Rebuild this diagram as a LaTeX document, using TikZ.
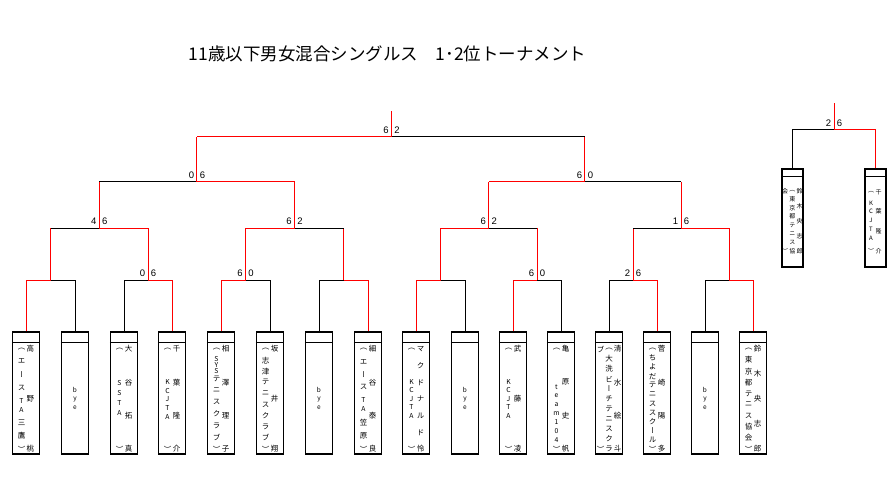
\documentclass[tikz,border=0pt]{standalone}
\usepackage{fontspec}
\newfontfamily\jp{Noto Sans CJK JP}
\newfontfamily\jpv[RawFeature=+vert]{Noto Sans CJK JP}
\newfontfamily\arialf{Liberation Sans}
\usetikzlibrary{calc}
\tikzset{
  ln/.style={line width=1pt, black},
  rd/.style={line width=1pt, red},
  pbox/.style={draw, line width=1.1pt, minimum width=27pt, minimum height=122pt, inner sep=0pt},
  ebox/.style={draw, line width=1.1pt, minimum width=21pt, minimum height=98pt, inner sep=0pt},
  chs/.style={inner sep=0pt, font=\jpv\fontsize{7.5}{7.5}\selectfont},
  lat/.style={inner sep=0pt, font=\jp\fontsize{6.8}{7}\selectfont},
  chx/.style={inner sep=0pt, font=\jpv\fontsize{6}{6}\selectfont},
  latx/.style={inner sep=0pt, font=\jp\fontsize{6}{6}\selectfont},
  byet/.style={inner sep=0pt, font=\jp\fontsize{6.5}{6.5}\selectfont},
  score/.style={inner sep=0pt, font=\arialf\fontsize{9.5}{9.5}\selectfont},
  ttl/.style={inner sep=0pt, font=\jp\fontsize{17.5}{17.5}\selectfont},
}
% distribute a list of characters evenly from y1 to y2 at x
\newcommand{\dcol}[6][chs]{%
  \foreach \dch [count=\dii] in {#6} {\xdef\dcn{\dii}}%
  \foreach \dch [count=\dii] in {#6} {%
    \node[#1] (#2-\dii) at (#3, {#4+(#5-#4)*(\dii-1)/max(\dcn-1,1)}) {\dch};}%
}
\newcommand{\scr}[5]{%
  \node[score] (#1a) at ({#2-5.5}, {#3-6.5}) {#4};
  \node[score] (#1b) at ({#2+5.5}, {#3-6.5}) {#5};}
\newcommand{\byebox}[2]{%
  \dcol[byet]{#1}{#2}{390}{408}{b,y,e}}
\begin{document}
\begin{tikzpicture}[x=1pt, y=-1pt]
\useasboundingbox (0,0) rectangle (892,484);

% title
\node[ttl] (title) at (387.5,54) {11歳以下男女混合シングルス　1･2位トーナメント};

% player boxes
\foreach \k/\cx in {0/26,1/75,2/124,3/172,4/221,5/270,6/319,7/368,8/416,9/465,10/513,11/561,12/609,13/657,14/705,15/753} {
  \node[pbox] (p\k) at (\cx,393) {};
  \draw[line width=1.1pt] ([yshift=-11pt]p\k.north west) -- ([yshift=-11pt]p\k.north east);
}

% junctions
\coordinate (m1) at (50.5,280);
\coordinate (m2) at (148,280);
\coordinate (m3) at (245.5,280);
\coordinate (m4) at (343.5,280);
\coordinate (m5) at (440.5,280);
\coordinate (m6) at (537,280);
\coordinate (m7) at (633,280);
\coordinate (m8) at (729,280);
\coordinate (n1) at (99.25,228);
\coordinate (n2) at (294.5,228);
\coordinate (n3) at (488.75,228);
\coordinate (n4) at (681,228);
\coordinate (q1) at (196.9,182);
\coordinate (q2) at (584.9,182);
\coordinate (f) at (391.5,137);
\coordinate (top) at (391.5,111);

% first round
\draw[rd] (p0.north) |- (m1);  \draw[ln] (p1.north) |- (m1);
\draw[ln] (p2.north) |- (m2);  \draw[rd] (p3.north) |- (m2);
\draw[rd] (p4.north) |- (m3);  \draw[ln] (p5.north) |- (m3);
\draw[ln] (p6.north) |- (m4);  \draw[rd] (p7.north) |- (m4);
\draw[rd] (p8.north) |- (m5);  \draw[ln] (p9.north) |- (m5);
\draw[rd] (p10.north) |- (m6); \draw[ln] (p11.north) |- (m6);
\draw[ln] (p12.north) |- (m7); \draw[rd] (p13.north) |- (m7);
\draw[ln] (p14.north) |- (m8); \draw[rd] (p15.north) |- (m8);

% second round
\foreach \a in {m1,m2,m3,m4,m5,m6,m7,m8} {\draw[rd] (\a) -- (\a |- n1);}
\draw[ln] (m1 |- n1) -- (n1); \draw[rd] (m2 |- n1) -- (n1);
\draw[rd] (m3 |- n2) -- (n2); \draw[ln] (m4 |- n2) -- (n2);
\draw[rd] (m5 |- n3) -- (n3); \draw[ln] (m6 |- n3) -- (n3);
\draw[ln] (m7 |- n4) -- (n4); \draw[rd] (m8 |- n4) -- (n4);

% semi finals
\foreach \a in {n1,n2,n3,n4} {\draw[rd] (\a) -- (\a |- q1);}
\draw[ln] (n1 |- q1) -- (q1); \draw[rd] (n2 |- q1) -- (q1);
\draw[rd] (n3 |- q2) -- (q2); \draw[ln] (n4 |- q2) -- (q2);

% final
\foreach \a in {q1,q2} {\draw[rd] (\a) -- (\a |- f);}
\draw[rd] (q1 |- f) -- (f); \draw[ln] (q2 |- f) -- (f);
\draw[rd] (f) -- (top);

% scores
\scr{s1}{148}{280}{0}{6}
\scr{s2}{245.5}{280}{6}{0}
\scr{s3}{537}{280}{6}{0}
\scr{s4}{633}{280}{2}{6}
\scr{s5}{99.25}{228}{4}{6}
\scr{s6}{294.5}{228}{6}{2}
\scr{s7}{488.75}{228}{6}{2}
\scr{s8}{681}{228}{1}{6}
\scr{s9}{196.9}{182}{0}{6}
\scr{s10}{584.9}{182}{6}{0}
\scr{s11}{391.5}{137}{6}{2}

% ---- box texts ----
% box 0
\dcol{b0r}{30.5}{349}{449}{高,野,桃}
\node[chs] (b0o) at (21.5,349) {（};
\dcol{b0a}{21.5}{361}{388}{エ,ー,ス}
\dcol[lat]{b0b}{21.5}{401}{410}{T,A}
\dcol{b0c}{21.5}{423}{436}{三,鷹}
\node[chs] (b0e) at (21.5,449) {）};
% box 1
\byebox{b1}{75}
% box 2
\dcol{b2r}{128.5}{349}{449}{大,谷,拓,真}
\node[chs] (b2o) at (119.5,349) {（};
\dcol[lat]{b2a}{119.5}{383}{413}{S,S,T,A}
\node[chs] (b2e) at (119.5,449) {）};
% box 3
\dcol{b3r}{176.5}{349}{449}{千,葉,隆,介}
\node[chs] (b3o) at (167.5,349) {（};
\dcol[lat]{b3a}{167.5}{382}{417}{K,C,J,T,A}
\node[chs] (b3e) at (167.5,449) {）};
% box 4
\dcol{b4r}{225.5}{349}{449}{相,澤,理,子}
\node[chs] (b4o) at (216.5,349) {（};
\dcol[lat]{b4a}{216.5}{359}{371}{S,Y,S}
\dcol{b4b}{216.5}{379}{437}{テ,ニ,ス,ク,ラ,ブ}
\node[chs] (b4e) at (216.5,449) {）};
% box 5
\dcol{b5r}{274.5}{349}{449}{坂,井,翔}
\dcol{b5l}{265.5}{349}{449}{（,志,津,テ,ニ,ス,ク,ラ,ブ,）}
% box 6
\byebox{b6}{319}
% box 7
\dcol{b7r}{372.5}{349}{449}{細,谷,泰,良}
\node[chs] (b7o) at (363.5,349) {（};
\dcol{b7a}{363.5}{362}{387}{エ,ー,ス}
\dcol[lat]{b7b}{363.5}{400}{409}{T,A}
\dcol{b7c}{363.5}{423}{436}{笠,原}
\node[chs] (b7e) at (363.5,449) {）};
% box 8
\dcol{b8r}{420.5}{349}{449}{マ,ク,ド,ナ,ル,ド,怜}
\node[chs] (b8o) at (411.5,349) {（};
\dcol[lat]{b8a}{411.5}{382}{416}{K,C,J,T,A}
\node[chs] (b8e) at (411.5,449) {）};
% box 9
\byebox{b9}{465}
% box 10
\dcol{b10r}{517.5}{349}{449}{武,藤,凌}
\node[chs] (b10o) at (508.5,349) {（};
\dcol[lat]{b10a}{508.5}{382}{416}{K,C,J,T,A}
\node[chs] (b10e) at (508.5,449) {）};
% box 11
\dcol{b11r}{565.5}{349}{449}{亀,原,史,帆}
\node[chs] (b11o) at (556.5,349) {（};
\dcol[lat]{b11a}{556.5}{387}{440}{t,e,a,m,1,0,4}
\node[chs] (b11e) at (556.5,449) {）};
% box 12
\dcol{b12r}{617.5}{349}{449}{清,水,絵,斗}
\dcol{b12m}{609}{349}{449}{（,大,洗,ビ,ー,チ,テ,ニ,ス,ク,ラ}
\dcol{b12l}{600.5}{349}{449}{ブ,）}
% box 13
\dcol{b13r}{661.5}{349}{449}{菅,崎,陽,多}
\dcol{b13l}{652.5}{349}{449}{（,ち,よ,だ,テ,ニ,ス,ス,ク,ー,ル,）}
% box 14
\byebox{b14}{705}
% box 15
\dcol{b15r}{757.5}{349}{449}{鈴,木,央,志,郎}
\dcol{b15l}{748.5}{349}{449}{（,東,京,都,テ,ニ,ス,協,会,）}

% ---- extra bracket ----
\node[ebox] (e0) at (792.5,218) {};
\node[ebox] (e1) at (875.5,218) {};
\foreach \e in {e0,e1} {\draw[line width=1.1pt] ([yshift=-8pt]\e.north west) -- ([yshift=-8pt]\e.north east);}
\coordinate (ej) at (834,130);
\coordinate (etop) at (834,103);
\draw[ln] (e0.north) |- (ej);
\draw[rd] (e1.north) |- (ej);
\draw[rd] (ej) -- (etop);
\scr{s12}{834}{130}{2}{6}
\dcol[chx]{e0l}{785}{191}{251}{会,）}
\dcol[chx]{e0m}{792.3}{191}{251}{（,東,京,都,テ,ニ,ス,協}
\dcol[chx]{e0r}{799.6}{191}{251}{鈴,木,央,志,郎}
\node[chx] (e1o) at (871,192) {（};
\dcol[latx]{e1a}{871}{203}{238}{K,C,J,T,A}
\node[chx] (e1e) at (871,251) {）};
\dcol[chx]{e1r}{878.5}{192}{251}{千,葉,隆,介}
\end{tikzpicture}
\end{document}
